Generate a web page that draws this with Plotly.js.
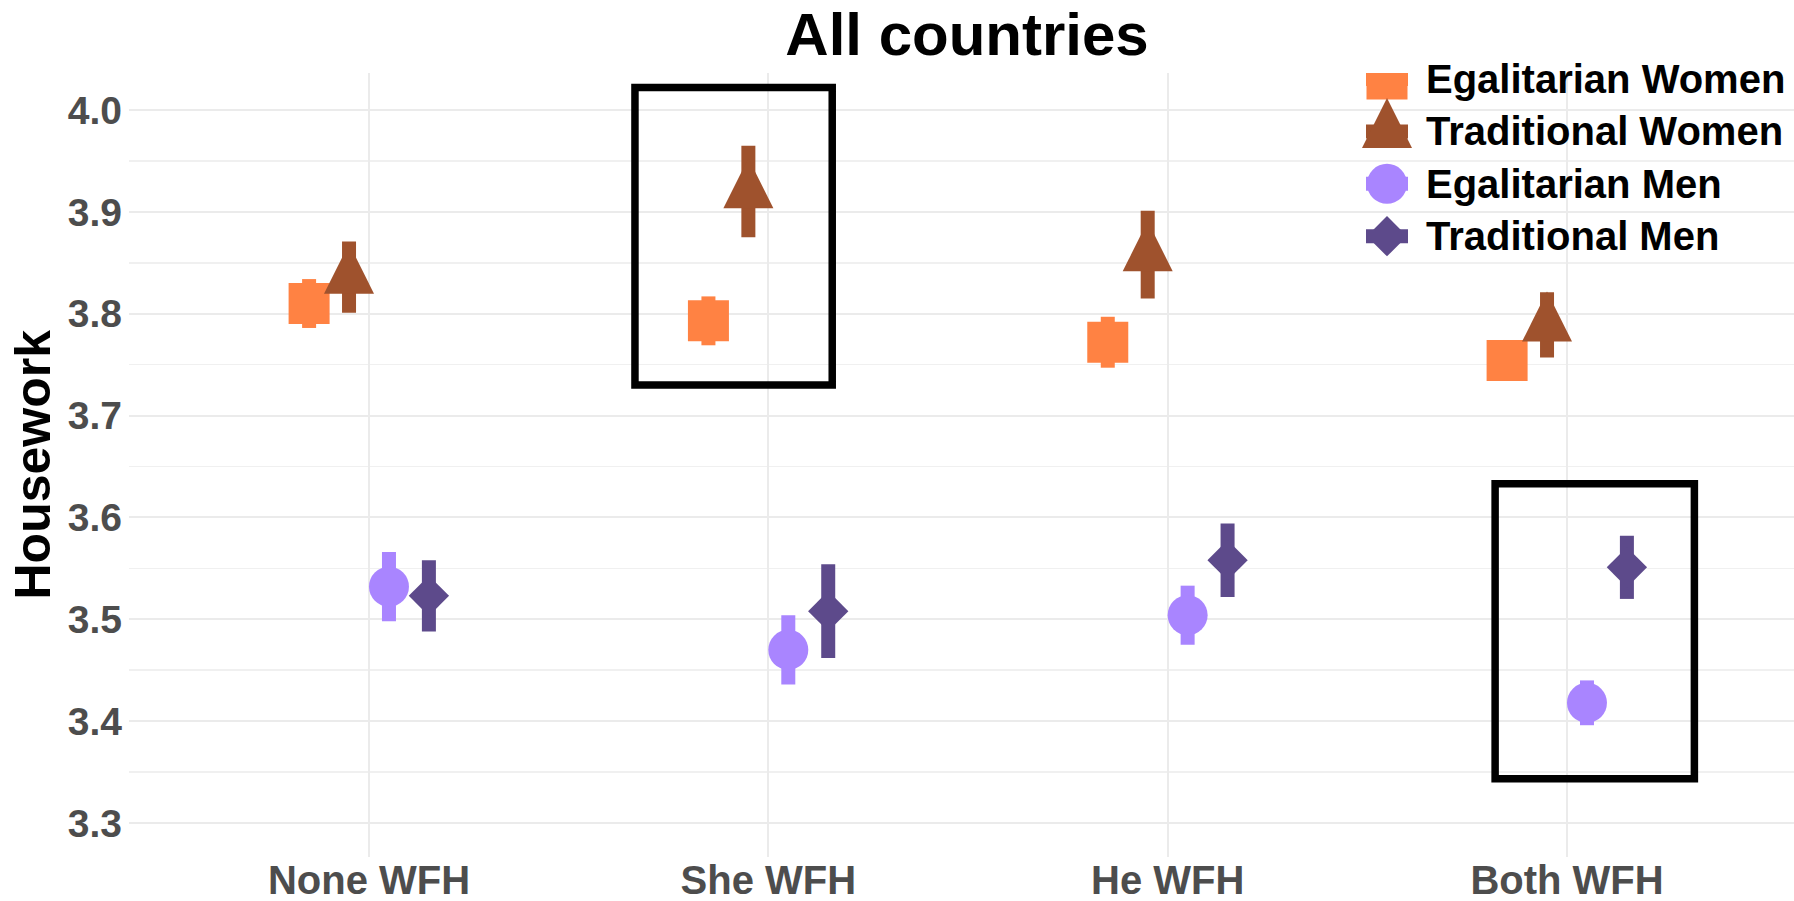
<!DOCTYPE html>
<html>
<head>
<meta charset="utf-8">
<script src="https://cdn.plot.ly/plotly-3.0.1.min.js"></script>
<style>
  html, body { margin: 0; padding: 0; background: #ffffff; }
  #chart { width: 1794px; height: 901px; }
</style>
</head>
<body>
<div id="chart"></div>
<script>
// Work-from-home arrangement of the couple
const categories = ['None WFH', 'She WFH', 'He WFH', 'Both WFH'];

// Group labels, in drawing order
const seriesNames = ['Egalitarian Women', 'Traditional Women', 'Egalitarian Men', 'Traditional Men'];

// Mean housework score and half-width of the interval for each group
const egalitarianWomen    = [3.810, 3.793, 3.772, 3.754];
const egalitarianWomenErr = [0.024, 0.024, 0.025, 0.015];
const traditionalWomen    = [3.836, 3.920, 3.858, 3.789];
const traditionalWomenErr = [0.035, 0.045, 0.043, 0.032];
const egalitarianMen      = [3.532, 3.470, 3.504, 3.418];
const egalitarianMenErr   = [0.034, 0.034, 0.029, 0.022];
const traditionalMen      = [3.523, 3.508, 3.558, 3.551];
const traditionalMenErr   = [0.035, 0.046, 0.036, 0.031];

// Y axis ticks
const yTickValues = [3.3, 3.4, 3.5, 3.6, 3.7, 3.8, 3.9, 4.0];
const yTickLabels = ['3.3', '3.4', '3.5', '3.6', '3.7', '3.8', '3.9', '4.0'];

// Highlight rectangles (x in category units, y in housework units)
const boxXMin = [0.666, 2.820];
const boxXMax = [1.160, 3.319];
const boxYMin = [3.730, 3.3435];
const boxYMax = [4.022, 3.633];

// ---------------------------------------------------------------
const seriesValues = [egalitarianWomen, traditionalWomen, egalitarianMen, traditionalMen];
const seriesErrors = [egalitarianWomenErr, traditionalWomenErr, egalitarianMenErr, traditionalMenErr];

const FONT = 'Liberation Sans, Arial, Helvetica, sans-serif';
const W = 1794, H = 901;
const plotL = 129, plotR = 1794, plotT = 73, plotB = 857;

// Equilateral-looking triangle: an arrow glyph flipped up and shifted so
// that its centroid sits on the data point.
const triSize = 50;
const markerStyles = [
  { color: '#FF8243', symbol: 'square',     size: 41, angle: 0,   standoff: 0 },
  { color: '#9F522D', symbol: 'arrow-down', size: triSize, angle: 180, standoff: triSize * 2 / 3 },
  { color: '#A985FF', symbol: 'circle',     size: 40, angle: 0,   standoff: 0 },
  { color: '#5D4A8B', symbol: 'diamond',    size: 31, angle: 0,   standoff: 0 }
];

const dodgeWidth = 0.4;
const nSeries = seriesNames.length;

const traces = [];
seriesNames.forEach((name, k) => {
  const st = markerStyles[k];
  const offset = (k - (nSeries - 1) / 2) * dodgeWidth / nSeries;
  traces.push({
    type: 'scatter',
    mode: 'markers',
    name: name,
    x: categories.map((c, i) => i + offset),
    y: seriesValues[k],
    error_y: {
      type: 'data', array: seriesErrors[k], visible: true,
      color: st.color, thickness: 14, width: 0
    },
    marker: {
      symbol: st.symbol, size: st.size, color: st.color,
      angle: st.angle, standoff: st.standoff, line: { width: 0 }
    },
    showlegend: false,
    hoverinfo: 'skip'
  });
});

// Key glyphs on a pixel-unit overlay (x2/y2 map 1 unit to 1 px)
const keyX = 1387, textX = 1424, rowY0 = 79, rowStep = 52.4;
const annotations = [];
seriesNames.forEach((name, k) => {
  const st = markerStyles[k];
  const yRow = rowY0 + k * rowStep;
  traces.push({
    type: 'scatter', mode: 'markers',
    x: [keyX], y: [yRow], xaxis: 'x2', yaxis: 'y2',
    error_x: { type: 'constant', value: 21, visible: true, color: st.color, thickness: 14, width: 0 },
    marker: { symbol: st.symbol, size: st.size, color: st.color, angle: st.angle, standoff: st.standoff, line: { width: 0 } },
    showlegend: false, hoverinfo: 'skip'
  });
  annotations.push({
    xref: 'x2', yref: 'y2', x: textX, y: yRow,
    text: name, showarrow: false, xanchor: 'left', yanchor: 'middle',
    font: { family: FONT, size: 40, color: '#000000', weight: 'bold' }
  });
});

// Y axis title
annotations.push({
  xref: 'paper', yref: 'paper',
  x: (32.5 - plotL) / (plotR - plotL), y: 0.5,
  text: 'Housework', textangle: -90, showarrow: false,
  xanchor: 'center', yanchor: 'middle',
  font: { family: FONT, size: 50, color: '#000000', weight: 'bold' }
});

const shapes = boxXMin.map((x0, i) => ({
  type: 'rect', xref: 'x', yref: 'y',
  x0: x0, x1: boxXMax[i], y0: boxYMin[i], y1: boxYMax[i],
  line: { color: '#000000', width: 7.5 }, fillcolor: 'rgba(0,0,0,0)',
  layer: 'above'
}));

const unitsPerPx = (4.0 - 3.3) / (823 - 110);
const yMin = 3.3 - (plotB - 823) * unitsPerPx;
const yMax = 4.0 + (110 - plotT) * unitsPerPx;
const pxPerCat = (1567 - 369) / 3;
const xMin = -(369 - plotL) / pxPerCat;
const xMax = 3 + (plotR - 1567) / pxPerCat;

const layout = {
  width: W, height: H,
  margin: { l: plotL, r: W - plotR, t: plotT, b: H - plotB, pad: 0 },
  paper_bgcolor: '#ffffff', plot_bgcolor: '#ffffff',
  font: { family: FONT },
  title: {
    text: 'All countries',
    font: { family: FONT, size: 60, color: '#000000', weight: 'bold' },
    xref: 'container', x: 967 / W, xanchor: 'center',
    yref: 'container', y: 1 - 34 / H, yanchor: 'middle'
  },
  xaxis: {
    type: 'linear', range: [xMin, xMax],
    tickmode: 'array', tickvals: categories.map((c, i) => i), ticktext: categories,
    showgrid: true, gridcolor: '#EBEBEB', gridwidth: 2,
    zeroline: false, showline: false, ticks: '',
    ticklabelstandoff: -4,
    tickfont: { family: FONT, size: 40, color: '#4D4D4D', weight: 'bold' }
  },
  yaxis: {
    type: 'linear', range: [yMin, yMax],
    tickmode: 'array', tickvals: yTickValues, ticktext: yTickLabels,
    showgrid: true, gridcolor: '#EBEBEB', gridwidth: 2,
    minor: { tickmode: 'linear', tick0: 3.25, dtick: 0.1, showgrid: true, gridcolor: '#F0F0F0', gridwidth: 1.5, ticks: '' },
    zeroline: false, showline: false, ticks: '',
    ticklabelstandoff: 6,
    tickfont: { family: FONT, size: 39, color: '#4D4D4D', weight: 'bold' }
  },
  xaxis2: { overlaying: 'x', anchor: 'y2', range: [plotL, plotR], visible: false, showgrid: false, zeroline: false, fixedrange: true },
  yaxis2: { overlaying: 'y', anchor: 'x2', range: [plotB, plotT], visible: false, showgrid: false, zeroline: false, fixedrange: true },
  shapes: shapes,
  annotations: annotations,
  showlegend: false
};

Plotly.newPlot('chart', traces, layout, { displayModeBar: false, staticPlot: true });
</script>
</body>
</html>
